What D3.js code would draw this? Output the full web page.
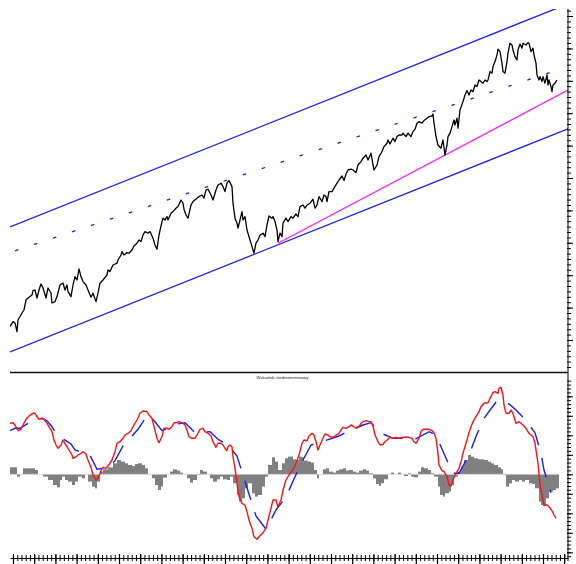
<!DOCTYPE html>
<html>
<head>
<meta charset="utf-8">
<script src="https://cdn.jsdelivr.net/npm/d3@7"></script>
<style>
body { margin: 0; background: #fff; }
svg { display: block; }
</style>
</head>
<body>
<script>
// [session, close]
var priceData = [
	[0,1227],[3,1252],[5,1245],[7,1202],[8,1260],[12,1295],[14,1310],[16,1360],[18,1370],[22,1385],
	[23,1407],[25,1410],[27,1370],[29,1410],[31,1440],[33,1420],[36,1370],[38,1420],[41,1395],[42,1345],
	[45,1352],[47,1377],[50,1435],[53,1445],[55,1410],[57,1435],[58,1402],[61,1377],[63,1435],[65,1477],
	[67,1460],[69,1515],[71,1477],[73,1452],[76,1435],[78,1410],[81,1374],[83,1394],[86,1352],[88,1394],
	[90,1444],[93,1460],[97,1485],[98,1510],[100,1502],[103,1535],[107,1544],[108,1560],[111,1585],[112,1602],
	[114,1585],[117,1597],[119,1594],[122,1610],[124,1630],[127,1644],[129,1660],[131,1652],[133,1685],[135,1702],
	[138,1694],[140,1702],[143,1669],[145,1635],[147,1614],[149,1685],[152,1752],[153,1769],[155,1760],[157,1777],
	[158,1760],[161,1794],[163,1802],[166,1819],[168,1827],[171,1860],[173,1844],[174,1814],[176,1785],[178,1769],
	[181,1835],[183,1852],[187,1869],[189,1877],[192,1885],[194,1869],[196,1910],[198,1914],[201,1885],[203,1860],
	[206,1910],[208,1935],[211,1944],[213,1927],[215,1902],[217,1944],[219,1957],[222,1927],[223,1844],[225,1769],
	[227,1744],[228,1719],[230,1760],[232,1802],[233,1760],[235,1777],[237,1710],[239,1677],[242,1627],[244,1594],
	[246,1644],[248,1660],[250,1685],[253,1694],[255,1677],[257,1735],[259,1780],[262,1769],[263,1777],[265,1752],
	[267,1710],[268,1652],[270,1694],[272,1677],[273,1744],[276,1769],[278,1752],[281,1777],[283,1769],[286,1790],
	[288,1777],[290,1827],[293,1835],[295,1819],[297,1835],[300,1844],[303,1864],[305,1819],[307,1835],[309,1877],
	[312,1852],[314,1885],[316,1877],[317,1852],[319,1902],[322,1902],[324,1919],[327,1944],[329,1960],[332,1980],
	[334,1957],[336,1990],[338,2010],[341,2014],[343,2010],[346,1997],[348,2035],[351,2052],[353,2069],[356,2085],
	[358,2060],[361,2094],[363,2035],[364,2010],[367,2035],[369,2077],[372,2102],[374,2127],[377,2144],[378,2160],
	[380,2140],[383,2169],[385,2152],[387,2177],[389,2185],[392,2185],[393,2194],[396,2177],[398,2194],[401,2177],
	[403,2202],[405,2214],[407,2244],[409,2252],[412,2244],[414,2257],[417,2269],[419,2277],[422,2280],[423,2290],
	[424,2244],[426,2177],[428,2135],[431,2119],[433,2160],[435,2085],[437,2135],[438,2177],[440,2194],[442,2227],
	[444,2260],[445,2235],[447,2269],[448,2219],[450,2310],[453,2352],[455,2385],[457,2407],[459,2385],[461,2410],
	[463,2402],[465,2435],[467,2427],[469,2460],[471,2452],[473,2444],[475,2460],[477,2452],[478,2460],[480,2502],
	[482,2494],[483,2527],[485,2552],[487,2585],[488,2614],[490,2602],[492,2544],[493,2502],[495,2494],[497,2552],
	[498,2594],[500,2644],[502,2635],[503,2610],[505,2577],[507,2560],[508,2610],[510,2640],[512,2619],[513,2644],
	[516,2635],[518,2647],[519,2644],[521,2602],[523,2619],[524,2585],[526,2544],[527,2485],[529,2460],[530,2477],
	[532,2452],[533,2477],[535,2444],[537,2485],[538,2435],[539,2460],[541,2427],[542,2402],[543,2435],[545,2444],
	[547,2460]
];

// channel and trend lines [session, level]
var channelHigh = [[0,1725],[558,2841]];
var channelLow = [[0,1100],[558,2216]];
var channelMid = [[5,1606],[547,2509]];
var trendLine = [[268,1644],[558,2410]];

// indicator [session, value]
var macdData = [
	[0,51],[3,51.6],[5,49.3],[8,43.6],[11,45],[13,49.3],[16,55],[19,58.3],[23,61],[25,61],
	[27,57.6],[29,55],[32,56],[34,55],[37,51],[39,47.6],[42,42.6],[44,34.3],[46,29.3],[48,26],
	[51,29.3],[53,34.3],[55,31],[57,27.6],[59,24.3],[62,19.3],[63,16],[66,17.6],[68,19.3],[71,21],
	[73,22.6],[76,20.3],[78,14.3],[81,7],[83,-0.7],[86,-5.7],[88,-4],[91,3.6],[93,7],[96,6],
	[98,8.3],[102,14.3],[105,22.6],[107,31],[110,32.6],[113,36],[115,39.3],[118,41],[121,43.6],[123,47.6],
	[127,54.3],[130,61],[133,63.3],[137,62.6],[139,59.3],[142,56],[144,47.6],[147,36],[149,31.6],[152,37.6],
	[154,46],[157,46],[159,45],[162,47.6],[164,51.6],[167,51.6],[169,52.6],[173,51],[175,49.3],[177,44.3],
	[179,37.6],[182,36],[185,36],[187,39.3],[190,45],[193,46],[195,42.6],[198,41],[201,38.3],[203,32.6],
	[206,27],[208,31],[211,31],[213,29.3],[215,26],[217,23.6],[218,27.6],[220,29.3],[222,27.6],[223,17.6],
	[225,6],[227,-9],[229,-22.4],[232,-29],[235,-30.7],[237,-37.4],[239,-45.7],[242,-54],[244,-62.4],[247,-65],
	[249,-62.4],[253,-58.4],[256,-54],[258,-45.7],[261,-34],[263,-25.7],[266,-25.7],[268,-32.4],[271,-25.7],[273,-15.7],
	[276,-5.7],[279,-0.7],[283,4.3],[286,11],[289,19.3],[292,31],[294,34.3],[297,33.6],[299,38.3],[302,41],
	[304,39.3],[306,32.6],[308,24.3],[310,29.3],[313,36],[315,40.3],[318,39.3],[320,37.6],[323,37],[325,38.3],
	[329,41],[331,44.3],[333,47],[336,46],[339,47.6],[341,49.3],[343,48.3],[346,46],[349,47.6],[351,51],
	[353,52.6],[356,53.6],[359,52.6],[361,52.6],[363,48.3],[365,39.3],[368,32.6],[370,29.3],[373,30],[375,32.6],
	[378,35],[380,37],[383,36],[386,37],[389,36],[393,37],[396,37],[399,37],[402,36],[404,32.6],
	[406,31],[409,36],[411,42.6],[413,45],[416,45],[419,45],[422,43.6],[424,41.6],[426,36],[428,21],
	[429,9.3],[432,3.6],[434,2.6],[437,-2.4],[439,-10.7],[441,-11.7],[443,-5.7],[446,1],[449,6],[451,12.6],
	[453,21],[456,31],[459,41.6],[461,47.6],[463,52.6],[466,57.6],[469,62.6],[471,67.6],[474,71],[478,71.6],
	[480,76],[483,81.6],[485,82.6],[488,81],[489,86],[491,87],[493,79.3],[494,69.3],[496,61],[499,61],
	[501,64.3],[503,61],[506,51],[509,52.6],[511,51],[513,49.3],[516,46],[519,41],[521,39.3],[523,37.6],
	[525,31],[528,11],[530,-10.7],[532,-20.7],[534,-30.7],[537,-30.7],[539,-32.4],[542,-36.4],[544,-40.7],[546,-44]
];

var signalData = [
	[0,43.6],[5,46],[10,46],[18,51],[32,56],[37,53.6],[42,47.6],[47,39.3],[61,30.3],[65,24.3],
	[70,22.6],[79,21],[87,5],[93,6],[100,8.3],[105,13.6],[113,28.3],[120,36],[128,45],[138,60],
	[145,52.6],[152,43.6],[167,50.3],[175,51.6],[185,41.6],[200,42.6],[208,35],[218,29.3],[227,18.3],[234,-4],
	[239,-19.7],[246,-41.7],[256,-55],[266,-35.7],[276,-22.7],[285,-2.4],[293,14.3],[301,29.3],[319,35],[329,38.3],
	[339,43.6],[353,49.3],[361,51.6],[370,41.6],[383,36],[393,36],[404,34.3],[419,42.6],[426,39.3],[431,27.6],
	[438,11.6],[443,1],[449,1],[459,19.3],[467,40.3],[474,56],[487,73.6],[499,70.3],[506,64.3],[514,56],
	[525,41.6],[531,21],[534,4.3],[541,-18.4]
];

var histData = [
	[0,7],[5,7],[7,-2.3],[10,0],[13,6],[18,6],[23,6],[25,4.3],[28,0],[33,-2.3],
	[38,-5.7],[43,-10.7],[47,-13],[50,-5.7],[52,-2.3],[55,-5.7],[58,-7.3],[62,-10.7],[65,-7.3],[68,-2.3],
	[72,-4],[75,0],[78,-7.3],[82,-12.3],[85,-14],[87,-7.3],[90,2.7],[93,5],[98,7],[103,11],
	[107,14.3],[111,12.7],[115,11],[118,9.3],[122,8.3],[125,10.3],[128,11],[132,9.3],[135,6],[138,0],
	[142,-4],[145,-10.7],[148,-15.7],[151,-12.3],[153,-3.3],[157,0],[160,2.7],[163,5],[167,3.7],[170,1.7],
	[173,0],[177,-4],[180,-8.3],[183,-5.7],[187,-0.7],[190,4.3],[193,2.7],[197,0],[200,-4],[203,-7.3],
	[207,-5],[210,-2.3],[213,-5],[217,-5.7],[220,-2.3],[223,-9],[227,-20.7],[229,-27.3],[232,-24],[235,-14],
	[238,-9],[242,-19],[245,-22.3],[248,-20.7],[252,-12.3],[255,-2.3],[258,9.3],[262,17],[265,12.7],[268,4.3],
	[272,11],[275,16],[278,17.7],[283,15],[286,14.3],[289,17.7],[292,17],[294,13.7],[298,12.7],[301,11.7],
	[304,4.3],[307,-4],[309,0],[313,5],[316,6],[319,2.7],[323,1.7],[326,3.7],[329,5],[333,6],
	[336,3.7],[339,4.3],[343,2.7],[346,1.7],[349,3.7],[353,5],[356,3.7],[359,1],[363,-4],[366,-9.7],
	[369,-11.7],[371,-9],[374,-5],[378,0],[381,1.7],[384,0],[388,1.7],[391,0],[394,-1.7],[398,1],
	[401,-2.3],[404,-3],[408,2.7],[411,7],[414,6],[418,4.3],[421,1],[424,-2.3],[428,-12.3],[430,-20.7],
	[433,-22.3],[435,-19],[439,-17.3],[441,-10.7],[444,-2.3],[448,2.7],[451,7.7],[454,14.3],[458,19.3],[461,17.7],
	[464,16],[468,15],[471,15],[474,14.3],[478,12.7],[481,11],[484,9.3],[488,7],[491,5],[493,-0.7],
	[496,-12.3],[499,-9],[502,-5.7],[505,-7.3],[509,-5.7],[512,-7.3],[515,-5.7],[519,-9],[522,-9.7],[525,-14],
	[529,-27.3],[531,-30.7],[533,-31.7],[536,-24],[539,-17.3],[543,-15.7],[546,-14]
];

var indicatorTitle = 'Wskaźnik średnioterminowy';

var width = 576;
var height = 564;
var xLeft = 10;
var xRight = 568;
var axisY = 558;

var svgDoc = d3.select('body').append('svg')
	.attr('width', width)
	.attr('height', height);

var x = d3.scaleLinear().domain([0, 558]).range([xLeft, xRight]);
var yP = d3.scaleLinear().domain([1000, 2815]).range([372, 9]);
var yM = d3.scaleLinear().domain([-83.7, 94.3]).range([axisY, 380]);

var defs = svgDoc.append('defs');
defs.append('clipPath').attr('id', 'clipTop')
	.append('rect').attr('x', xLeft).attr('y', 9).attr('width', xRight - xLeft).attr('height', 363);
defs.append('clipPath').attr('id', 'clipBottom')
	.append('rect').attr('x', xLeft).attr('y', 380).attr('width', xRight - xLeft).attr('height', axisY - 380);

var lineP = d3.line()
	.x(function(d) { return x(d[0]); })
	.y(function(d) { return yP(d[1]); });

var lineM = d3.line()
	.x(function(d) { return x(d[0]); })
	.y(function(d) { return yM(d[1]); });

// top panel
var topPanel = svgDoc.append('g').attr('clip-path', 'url(#clipTop)');

topPanel.append('path').datum(channelHigh)
	.attr('d', lineP).attr('fill', 'none').attr('stroke', '#1c1cff').attr('stroke-width', 1.3);
topPanel.append('path').datum(channelLow)
	.attr('d', lineP).attr('fill', 'none').attr('stroke', '#1c1cff').attr('stroke-width', 1.3);
topPanel.append('path').datum(channelMid)
	.attr('d', lineP).attr('fill', 'none').attr('stroke', '#1c1cff').attr('stroke-width', 1.3)
	.attr('stroke-dasharray', '3.5,16.5');
topPanel.append('path').datum(trendLine)
	.attr('d', lineP).attr('fill', 'none').attr('stroke', '#ff1cff').attr('stroke-width', 1.3);
topPanel.append('path').datum(priceData)
	.attr('d', lineP).attr('fill', 'none').attr('stroke', '#000').attr('stroke-width', 1.3)
	.attr('stroke-linejoin', 'round');

// separator
svgDoc.append('line')
	.attr('x1', xLeft).attr('y1', 372.5)
	.attr('x2', xRight).attr('y2', 372.5)
	.attr('stroke', '#111').attr('stroke-width', 1.6);

svgDoc.append('text')
	.attr('x', 282.5)
	.attr('y', 378.8)
	.attr('text-anchor', 'middle')
	.attr('font-family', 'Liberation Sans, Arial, sans-serif')
	.attr('font-size', 4.2)
	.attr('fill', '#222')
	.text(indicatorTitle);

// bottom panel
var bottomPanel = svgDoc.append('g').attr('clip-path', 'url(#clipBottom)');

bottomPanel.append('g').selectAll('rect')
	.data(histData)
	.enter()
	.append('rect')
	.attr('x', function(d) { return x(d[0]); })
	.attr('width', function(d, i) {
		var next = i < histData.length - 1 ? histData[i + 1][0] : d[0] + 3;
		return x(next) - x(d[0]);
	})
	.attr('y', function(d) { return yM(Math.max(0, d[1])); })
	.attr('height', function(d) { return Math.abs(yM(d[1]) - yM(0)); })
	.attr('fill', '#808080');

bottomPanel.append('line')
	.attr('x1', x(0)).attr('y1', yM(0))
	.attr('x2', x(547)).attr('y2', yM(0))
	.attr('stroke', '#d0d0d0').attr('stroke-width', 0.8);

bottomPanel.append('path').datum(signalData)
	.attr('d', lineM).attr('fill', 'none').attr('stroke', '#1a1aff').attr('stroke-width', 1.4)
	.attr('stroke-dasharray', '20,13');
bottomPanel.append('path').datum(macdData)
	.attr('d', lineM).attr('fill', 'none').attr('stroke', '#ff1010').attr('stroke-width', 1.4)
	.attr('stroke-linejoin', 'round');

// right axis
svgDoc.append('line')
	.attr('x1', xRight).attr('y1', 9)
	.attr('x2', xRight).attr('y2', 561)
	.attr('stroke', '#000').attr('stroke-width', 1);

var topMinor = d3.range(2807, 1000, -27);
var topMajor = d3.range(2780, 1000, -162);
var botMinor = d3.range(-21, 25).map(function(k) { return k * 3.9; });
var botMajor = d3.range(-4, 5).map(function(k) { return k * 19.5; });

function rightTicks(scale, values, size) {
	var g = svgDoc.append('g')
		.attr('transform', 'translate(' + xRight + ',0)')
		.call(d3.axisRight(scale).tickValues(values).tickSize(size).tickSizeOuter(0).tickFormat(''));
	g.select('.domain').remove();
	g.selectAll('line').attr('x1', -1);
}
rightTicks(yP, topMinor, 3);
rightTicks(yP, topMajor, 5);
rightTicks(yM, botMinor, 3);
rightTicks(yM, botMajor, 5);

// bottom axis
var xMajor = d3.range(3, 558, 21.2);
var xMinor = d3.range(-1.24, 558, 4.24).filter(function(v) { return v >= 0; });

var gx = svgDoc.append('g')
	.attr('transform', 'translate(0,' + axisY + ')')
	.call(d3.axisBottom(x).tickValues(xMinor).tickSize(3).tickSizeOuter(0).tickFormat(''));
gx.selectAll('line').attr('y1', -3);
gx.select('.domain').attr('stroke-width', 1);

var gxm = svgDoc.append('g')
	.attr('transform', 'translate(0,' + axisY + ')')
	.call(d3.axisBottom(x).tickValues(xMajor).tickSize(6).tickSizeOuter(0).tickFormat(''));
gxm.selectAll('line').attr('y1', -4).attr('stroke-width', 1.2);
gxm.select('.domain').remove();
</script>
</body>
</html>
